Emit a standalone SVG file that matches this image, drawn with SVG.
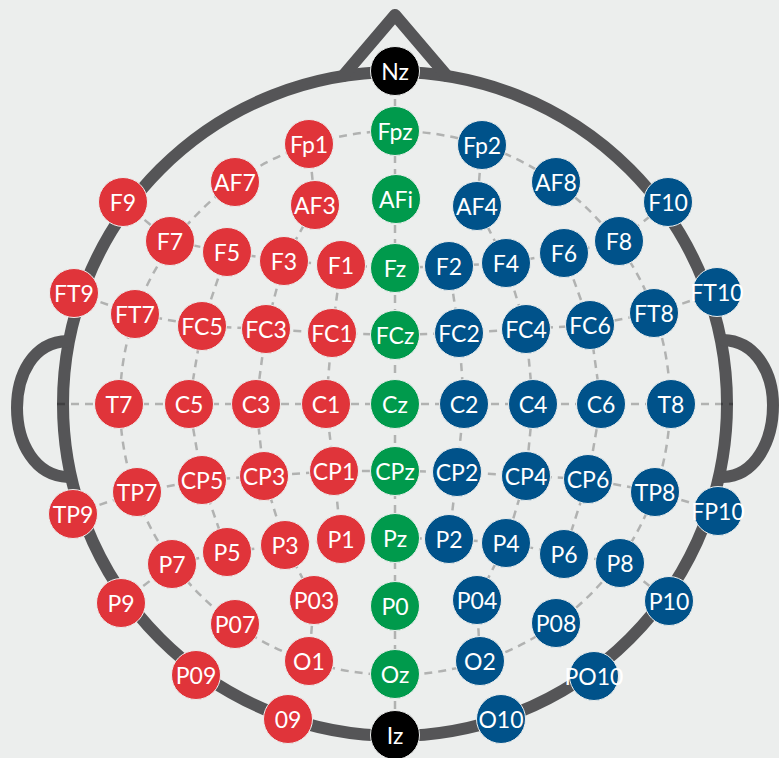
<svg xmlns="http://www.w3.org/2000/svg" width="779" height="758" viewBox="0 0 779 758">
<style>
.head{fill:none;stroke:#555557;stroke-width:12;stroke-linecap:round;stroke-linejoin:round}
.dash{fill:none;stroke:#000;stroke-opacity:0.25;stroke-width:2.5;stroke-dasharray:8 6}
.n circle{r:24.5;stroke:#eceeed;stroke-width:1}
.red circle{fill:#e0343a}
.blue circle{fill:#00528a}
.green circle{fill:#009a4c}
.black circle{fill:#000}
text{font-family:Lato,"Open Sans","DejaVu Sans",sans-serif;font-size:23px;font-weight:400;fill:#fff;text-anchor:middle}
</style>
<rect x="0" y="0" width="779" height="758" fill="#eceeed"/>
<g id="head">
<circle class="head" cx="395" cy="404" r="332"/>
<path class="head" d="M343 76 L395 15 L447 76"/>
<path class="head" d="M68 341 C32 342 17 376 17 408 C17 443 35 476 68 477"/>
<path class="head" d="M723 340 C758 341 773 376 773 405 C773 440 756 476 723 477"/>
</g>
<g id="connectors">
<ellipse class="dash" cx="395" cy="403" rx="275" ry="272"/>
<line class="dash" x1="395" y1="71" x2="395" y2="735"/>
<line class="dash" x1="57" y1="404" x2="733" y2="404"/>
<polyline class="dash" points="123,202 170,241 227,252 284,261 341,265 395,268 449,266 506,263 564,253 619,241 668,202"/>
<polyline class="dash" points="74,293 135,314 202,326 266,329 332,333 395,335 459,333 526,329 590,325 654,313 717,292"/>
<polyline class="dash" points="73,514 137,492 202,480 264,476 334,471 395,471 457,472 526,476 588,479 655,492 718,511"/>
<polyline class="dash" points="121,603 172,564 227,552 285,545 341,539 395,538 449,539 506,543 564,554 620,563 669,601"/>
<polyline class="dash" points="309,144 315,205 284,261 266,329 256,404 264,476 285,545 314,600 309,661"/>
<polyline class="dash" points="341,265 332,333 326,404 334,471 341,539"/>
<polyline class="dash" points="227,252 202,326 189,404 202,480 227,552"/>
<polyline class="dash" points="482,145 477,206 506,263 526,329 533,404 526,476 506,543 477,600 480,661"/>
<polyline class="dash" points="449,266 459,333 464,404 457,472 449,539"/>
<polyline class="dash" points="564,253 590,325 601,404 588,479 564,554"/>
</g>
<g id="nodes">
<g id="Nz" class="n black"><circle cx="395" cy="71"/><text x="395" y="79.5">Nz</text></g>
<g id="Iz" class="n black"><circle cx="395" cy="735"/><text x="395" y="743.5">Iz</text></g>
<g id="Fpz" class="n green"><circle cx="395" cy="131"/><text x="395" y="139.5">Fpz</text></g>
<g id="AFi" class="n green"><circle cx="396" cy="199"/><text x="396" y="207.5">AFi</text></g>
<g id="Fz" class="n green"><circle cx="395" cy="268"/><text x="395" y="276.5">Fz</text></g>
<g id="FCz" class="n green"><circle cx="395" cy="335"/><text x="395" y="343.5">FCz</text></g>
<g id="Cz" class="n green"><circle cx="395" cy="404"/><text x="395" y="412.5">Cz</text></g>
<g id="CPz" class="n green"><circle cx="395" cy="471"/><text x="395" y="479.5">CPz</text></g>
<g id="Pz" class="n green"><circle cx="395" cy="538"/><text x="395" y="546.5">Pz</text></g>
<g id="P0" class="n green"><circle cx="395" cy="606"/><text x="395" y="614.5">P0</text></g>
<g id="Oz" class="n green"><circle cx="395" cy="674"/><text x="395" y="682.5">Oz</text></g>
<g id="Fp1" class="n red"><circle cx="309" cy="144"/><text x="309" y="152.5">Fp1</text></g>
<g id="AF7" class="n red"><circle cx="235" cy="182"/><text x="235" y="190.5">AF7</text></g>
<g id="AF3" class="n red"><circle cx="315" cy="205"/><text x="315" y="213.5">AF3</text></g>
<g id="F9" class="n red"><circle cx="123" cy="202"/><text x="123" y="210.5">F9</text></g>
<g id="F7" class="n red"><circle cx="170" cy="241"/><text x="170" y="249.5">F7</text></g>
<g id="F5" class="n red"><circle cx="227" cy="252"/><text x="227" y="260.5">F5</text></g>
<g id="F3" class="n red"><circle cx="284" cy="261"/><text x="284" y="269.5">F3</text></g>
<g id="F1" class="n red"><circle cx="341" cy="265"/><text x="341" y="273.5">F1</text></g>
<g id="FT9" class="n red"><circle cx="74" cy="293"/><text x="74" y="301.5">FT9</text></g>
<g id="FT7" class="n red"><circle cx="135" cy="314"/><text x="135" y="322.5">FT7</text></g>
<g id="FC5" class="n red"><circle cx="202" cy="326"/><text x="202" y="334.5">FC5</text></g>
<g id="FC3" class="n red"><circle cx="266" cy="329"/><text x="266" y="337.5">FC3</text></g>
<g id="FC1" class="n red"><circle cx="332" cy="333"/><text x="332" y="341.5">FC1</text></g>
<g id="T7" class="n red"><circle cx="119" cy="404"/><text x="119" y="412.5">T7</text></g>
<g id="C5" class="n red"><circle cx="189" cy="404"/><text x="189" y="412.5">C5</text></g>
<g id="C3" class="n red"><circle cx="256" cy="404"/><text x="256" y="412.5">C3</text></g>
<g id="C1" class="n red"><circle cx="326" cy="404"/><text x="326" y="412.5">C1</text></g>
<g id="TP9" class="n red"><circle cx="73" cy="514"/><text x="73" y="522.5">TP9</text></g>
<g id="TP7" class="n red"><circle cx="137" cy="492"/><text x="137" y="500.5">TP7</text></g>
<g id="CP5" class="n red"><circle cx="202" cy="480"/><text x="202" y="488.5">CP5</text></g>
<g id="CP3" class="n red"><circle cx="264" cy="476"/><text x="264" y="484.5">CP3</text></g>
<g id="CP1" class="n red"><circle cx="334" cy="471"/><text x="334" y="479.5">CP1</text></g>
<g id="P9" class="n red"><circle cx="121" cy="603"/><text x="121" y="611.5">P9</text></g>
<g id="P7" class="n red"><circle cx="172" cy="564"/><text x="172" y="572.5">P7</text></g>
<g id="P5" class="n red"><circle cx="227" cy="552"/><text x="227" y="560.5">P5</text></g>
<g id="P3" class="n red"><circle cx="285" cy="545"/><text x="285" y="553.5">P3</text></g>
<g id="P1" class="n red"><circle cx="341" cy="539"/><text x="341" y="547.5">P1</text></g>
<g id="P07" class="n red"><circle cx="235" cy="624"/><text x="235" y="632.5">P07</text></g>
<g id="P03" class="n red"><circle cx="314" cy="600"/><text x="314" y="608.5">P03</text></g>
<g id="P09" class="n red"><circle cx="196" cy="675"/><text x="196" y="683.5">P09</text></g>
<g id="O1" class="n red"><circle cx="309" cy="661"/><text x="309" y="669.5">O1</text></g>
<g id="O9" class="n red"><circle cx="288" cy="719"/><text x="288" y="727.5">09</text></g>
<g id="Fp2" class="n blue"><circle cx="482" cy="145"/><text x="482" y="153.5">Fp2</text></g>
<g id="AF8" class="n blue"><circle cx="556" cy="182"/><text x="556" y="190.5">AF8</text></g>
<g id="AF4" class="n blue"><circle cx="477" cy="206"/><text x="477" y="214.5">AF4</text></g>
<g id="F10" class="n blue"><circle cx="668" cy="202"/><text x="668" y="210.5">F10</text></g>
<g id="F8" class="n blue"><circle cx="619" cy="241"/><text x="619" y="249.5">F8</text></g>
<g id="F6" class="n blue"><circle cx="564" cy="253"/><text x="564" y="261.5">F6</text></g>
<g id="F4" class="n blue"><circle cx="506" cy="263"/><text x="506" y="271.5">F4</text></g>
<g id="F2" class="n blue"><circle cx="449" cy="266"/><text x="449" y="274.5">F2</text></g>
<g id="FT10" class="n blue"><circle cx="717" cy="292"/><text x="717" y="300.5">FT10</text></g>
<g id="FT8" class="n blue"><circle cx="654" cy="313"/><text x="654" y="321.5">FT8</text></g>
<g id="FC6" class="n blue"><circle cx="590" cy="325"/><text x="590" y="333.5">FC6</text></g>
<g id="FC4" class="n blue"><circle cx="526" cy="329"/><text x="526" y="337.5">FC4</text></g>
<g id="FC2" class="n blue"><circle cx="459" cy="333"/><text x="459" y="341.5">FC2</text></g>
<g id="T8" class="n blue"><circle cx="671" cy="404"/><text x="671" y="412.5">T8</text></g>
<g id="C6" class="n blue"><circle cx="601" cy="404"/><text x="601" y="412.5">C6</text></g>
<g id="C4" class="n blue"><circle cx="533" cy="404"/><text x="533" y="412.5">C4</text></g>
<g id="C2" class="n blue"><circle cx="464" cy="404"/><text x="464" y="412.5">C2</text></g>
<g id="FP10" class="n blue"><circle cx="718" cy="511"/><text x="718" y="519.5">FP10</text></g>
<g id="TP8" class="n blue"><circle cx="655" cy="492"/><text x="655" y="500.5">TP8</text></g>
<g id="CP6" class="n blue"><circle cx="588" cy="479"/><text x="588" y="487.5">CP6</text></g>
<g id="CP4" class="n blue"><circle cx="526" cy="476"/><text x="526" y="484.5">CP4</text></g>
<g id="CP2" class="n blue"><circle cx="457" cy="472"/><text x="457" y="480.5">CP2</text></g>
<g id="P10" class="n blue"><circle cx="669" cy="601"/><text x="669" y="609.5">P10</text></g>
<g id="P8" class="n blue"><circle cx="620" cy="563"/><text x="620" y="571.5">P8</text></g>
<g id="P6" class="n blue"><circle cx="564" cy="554"/><text x="564" y="562.5">P6</text></g>
<g id="P4" class="n blue"><circle cx="506" cy="543"/><text x="506" y="551.5">P4</text></g>
<g id="P2" class="n blue"><circle cx="449" cy="539"/><text x="449" y="547.5">P2</text></g>
<g id="P08" class="n blue"><circle cx="556" cy="623"/><text x="556" y="631.5">P08</text></g>
<g id="P04" class="n blue"><circle cx="477" cy="600"/><text x="477" y="608.5">P04</text></g>
<g id="PO10" class="n blue"><circle cx="594" cy="676"/><text x="594" y="684.5">PO10</text></g>
<g id="O2" class="n blue"><circle cx="480" cy="661"/><text x="480" y="669.5">O2</text></g>
<g id="O10" class="n blue"><circle cx="501" cy="719"/><text x="501" y="727.5">O10</text></g>
</g>
</svg>
